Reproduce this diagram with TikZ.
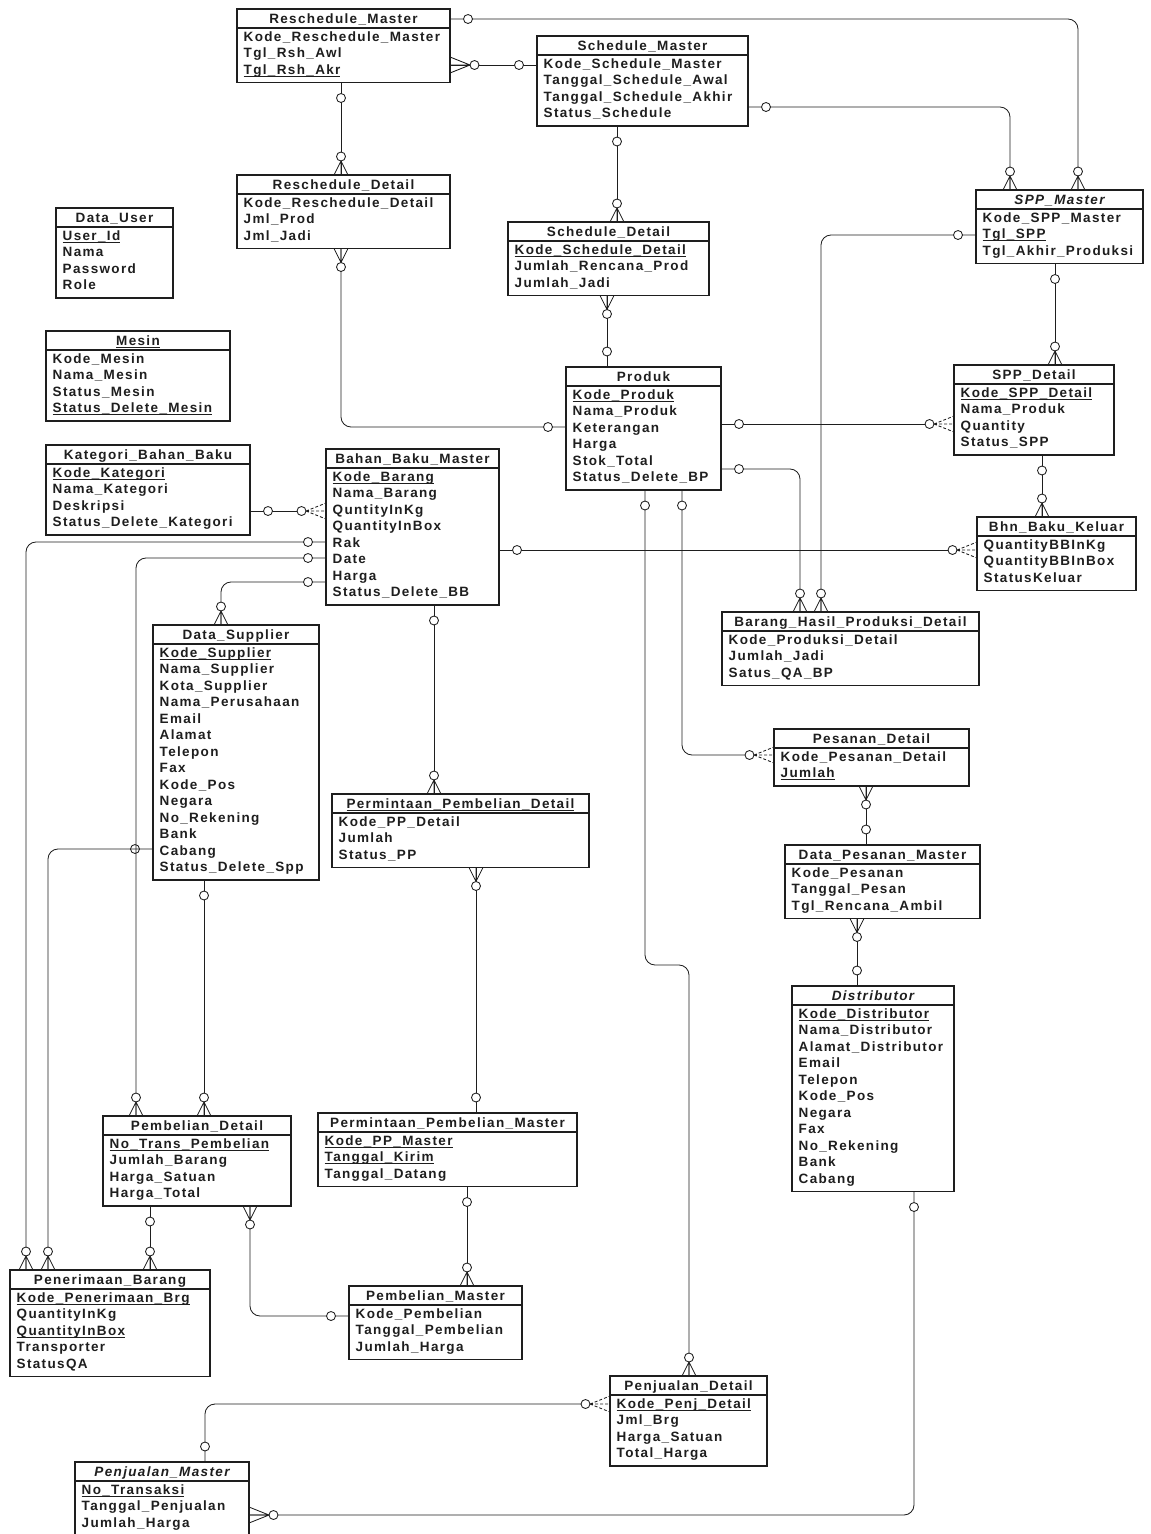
\documentclass[tikz,border=0pt]{standalone}
\usepackage{fontspec}
\newfontfamily\erfont{Liberation Sans}[LetterSpace=10]
\usetikzlibrary{calc}
\definecolor{ink}{HTML}{1E1E1E}

% underlined key attribute, rule just below the baseline
\newcommand\keyul[1]{\setbox0\hbox{#1}\rlap{\rule[-2.2pt]{\wd0}{0.9pt}}\box0}

% entity box: name, x, y, width, number of rows, title, rows
\newcommand\erbox[7]{%
  \node[ebox, minimum width=#4, minimum height={40.5+(#5-1)*16.5}] (#1) at (#2,#3) {};
  \draw[draw=ink, line width=1.1pt] ($(#1.north west)+(0,19)$) -- ($(#1.north east)+(0,19)$);
  \node[etitle] (#1-t) at ($(#1.north)+(0,9.5)$) {#6};
  \foreach \r [count=\i] in {#7} {
    \node[erow] (#1-\i) at ($(#1.north west)+(6.5,{27.5+(\i-1)*16.5})$) {\r};
  }
}

% crow's foot (many, optional): style, point on box edge, angle away from box, length, spread, circle offset
\newcommand\crowfoot[6]{%
  \draw[conn,#1] ($(#2)+({#3}:#4)$) -- ($(#2)+({#3+90}:#5)$)
    ($(#2)+({#3}:#4)$) -- (#2)
    ($(#2)+({#3}:#4)$) -- ($(#2)+({#3-90}:#5)$);
  \draw[circ] ($(#2)+({#3}:#6)$) circle[radius=4.5pt];}
\newcommand\manyV[2]{\crowfoot{}{#1}{#2}{14pt}{7pt}{18.5pt}}
\newcommand\manyH[2]{\crowfoot{}{#1}{#2}{20pt}{8pt}{24.5pt}}
\newcommand\manyHd[2]{%
  \draw[white,line width=2.4pt] ($(#1)+({#2}:0.8pt)$) -- ($(#1)+({#2}:20pt)$);
  \crowfoot{densely dashed}{#1}{#2}{20pt}{8pt}{24.5pt}}
% one, optional
\newcommand\oneV[3][]{\draw[circ,#1] ($(#2)+({#3}:15.5pt)$) circle[radius=4.5pt];}
\newcommand\oneH[3][]{\draw[circ,#1] ($(#2)+({#3}:18pt)$) circle[radius=4.5pt];}

\tikzset{
  ebox/.style={draw=ink, line width=1.1pt, fill=white, anchor=north west, inner sep=0pt, outer sep=0pt},
  etxt/.style={inner sep=0pt, text height=9.6pt, text depth=0pt, text=ink,
    font={\erfont\bfseries\fontsize{13.5}{16}\selectfont}},
  erow/.style={etxt, anchor=west},
  etitle/.style={etxt, anchor=center},
  conn/.style={draw=ink, line width=0.85pt},
  circ/.style={draw=ink, line width=0.85pt, fill=white},
}

\begin{document}
\begin{tikzpicture}[x=1pt,y=-1pt]
\useasboundingbox (0,0) rectangle (1151,1534);
\fill[white] (0,0) rectangle (1151,1534);

% ---------- entities ----------
\erbox{RM}{237}{9}{213}{3}{Reschedule\_Master}{Kode\_Reschedule\_Master,Tgl\_Rsh\_Awl,\keyul{Tgl\_Rsh\_Akr}}
\erbox{SM}{537}{36}{211}{4}{Schedule\_Master}{Kode\_Schedule\_Master,Tanggal\_Schedule\_Awal,Tanggal\_Schedule\_Akhir,Status\_Schedule}
\erbox{RD}{237}{175}{213}{3}{Reschedule\_Detail}{Kode\_Reschedule\_Detail,Jml\_Prod,Jml\_Jadi}
\erbox{SD}{508}{222}{201}{3}{Schedule\_Detail}{\keyul{Kode\_Schedule\_Detail},Jumlah\_Rencana\_Prod,Jumlah\_Jadi}
\erbox{DU}{56}{208}{117}{4}{Data\_User}{\keyul{User\_Id},Nama,Password,Role}
\erbox{ME}{46}{331}{184}{4}{\keyul{Mesin}}{Kode\_Mesin,Nama\_Mesin,Status\_Mesin,\keyul{Status\_Delete\_Mesin}}
\erbox{SPM}{976}{190}{167}{3}{\itshape SPP\_Master}{Kode\_SPP\_Master,\keyul{Tgl\_SPP},Tgl\_Akhir\_Produksi}
\erbox{SPD}{954}{365}{160}{4}{SPP\_Detail}{\keyul{Kode\_SPP\_Detail},Nama\_Produk,Quantity,Status\_SPP}
\erbox{PR}{566}{367}{155}{6}{Produk}{\keyul{Kode\_Produk},Nama\_Produk,Keterangan,Harga,Stok\_Total,Status\_Delete\_BP}
\erbox{KB}{46}{445}{204}{4}{Kategori\_Bahan\_Baku}{\keyul{Kode\_Kategori},Nama\_Kategori,Deskripsi,Status\_Delete\_Kategori}
\erbox{BBM}{326}{449}{173}{8}{Bahan\_Baku\_Master}{\keyul{Kode\_Barang},Nama\_Barang,QuntityInKg,QuantityInBox,Rak,Date,Harga,Status\_Delete\_BB}
\erbox{BBK}{977}{517}{159}{3}{Bhn\_Baku\_Keluar}{QuantityBBInKg,QuantityBBInBox,StatusKeluar}
\erbox{BHPD}{722}{612}{257}{3}{Barang\_Hasil\_Produksi\_Detail}{Kode\_Produksi\_Detail,Jumlah\_Jadi,Satus\_QA\_BP}
\erbox{DS}{153}{625}{166}{14}{Data\_Supplier}{\keyul{Kode\_Supplier},Nama\_Supplier,Kota\_Supplier,Nama\_Perusahaan,Email,Alamat,Telepon,Fax,Kode\_Pos,Negara,No\_Rekening,Bank,Cabang,Status\_Delete\_Spp}
\erbox{PD}{774}{729}{195}{2}{Pesanan\_Detail}{Kode\_Pesanan\_Detail,\keyul{Jumlah}}
\erbox{PPD}{332}{794}{257}{3}{\keyul{Permintaan\_Pembelian\_Detail}}{Kode\_PP\_Detail,Jumlah,Status\_PP}
\erbox{DPM}{785}{845}{195}{3}{Data\_Pesanan\_Master}{Kode\_Pesanan,Tanggal\_Pesan,Tgl\_Rencana\_Ambil}
\erbox{DI}{792}{986}{162}{11}{\itshape Distributor}{\keyul{Kode\_Distributor},Nama\_Distributor,Alamat\_Distributor,Email,Telepon,Kode\_Pos,Negara,Fax,No\_Rekening,Bank,Cabang}
\erbox{PBD}{103}{1116}{188}{4}{Pembelian\_Detail}{\keyul{No\_Trans\_Pembelian},Jumlah\_Barang,Harga\_Satuan,Harga\_Total}
\erbox{PPM}{318}{1113}{259}{3}{Permintaan\_Pembelian\_Master}{\keyul{Kode\_PP\_Master},\keyul{Tanggal\_Kirim},Tanggal\_Datang}
\erbox{PNB}{10}{1270}{200}{5}{Penerimaan\_Barang}{\keyul{Kode\_Penerimaan\_Brg},QuantityInKg,\keyul{QuantityInBox},Transporter,StatusQA}
\erbox{PBM}{349}{1286}{173}{3}{Pembelian\_Master}{Kode\_Pembelian,Tanggal\_Pembelian,Jumlah\_Harga}
\erbox{PJD}{610}{1376}{157}{4}{Penjualan\_Detail}{\keyul{Kode\_Penj\_Detail},Jml\_Brg,Harga\_Satuan,Total\_Harga}
\erbox{PJM}{75}{1462}{174}{3}{\itshape Penjualan\_Master}{\keyul{No\_Transaksi},Tanggal\_Penjualan,Jumlah\_Harga}

% ---------- relationship end points ----------
\coordinate (k1a) at ($(RM.north east)+(0,10)$);
\coordinate (k1b) at ($(SPM.north west)+(102,0)$);
\coordinate (k2a) at ($(RM.north east)+(0,56)$);
\coordinate (k2b) at ($(SM.north west)+(0,29)$);
\coordinate (k3a) at ($(RM.south west)+(104,0)$);
\coordinate (k3b) at ($(RD.north west)+(104,0)$);
\coordinate (k4a) at ($(SM.south west)+(80,0)$);
\coordinate (k4b) at ($(SD.north west)+(109,0)$);
\coordinate (k5a) at ($(SM.north east)+(0,71)$);
\coordinate (k5b) at ($(SPM.north west)+(34,0)$);
\coordinate (k6a) at ($(RD.south west)+(104,0)$);
\coordinate (k6b) at ($(PR.north west)+(0,60)$);
\coordinate (k7a) at ($(SD.south west)+(99,0)$);
\coordinate (k7b) at ($(PR.north west)+(41,0)$);
\coordinate (k8a) at ($(SPM.south west)+(79,0)$);
\coordinate (k8b) at ($(SPD.north west)+(101,0)$);
\coordinate (k9a) at ($(SPM.north west)+(0,45)$);
\coordinate (k9b) at ($(BHPD.north west)+(99,0)$);
\coordinate (k10a) at ($(PR.north east)+(0,57)$);
\coordinate (k10b) at ($(SPD.north west)+(0,59)$);
\coordinate (k11a) at ($(PR.north east)+(0,102)$);
\coordinate (k11b) at ($(BHPD.north west)+(78,0)$);
\coordinate (k12a) at ($(PR.south west)+(79,0)$);
\coordinate (k12b) at ($(PJD.north west)+(79,0)$);
\coordinate (k13a) at ($(PR.south west)+(116,0)$);
\coordinate (k13b) at ($(PD.north west)+(0,26)$);
\coordinate (k14a) at ($(SPD.south west)+(88,0)$);
\coordinate (k14b) at ($(BBK.north west)+(65,0)$);
\coordinate (k15a) at ($(KB.north east)+(0,66)$);
\coordinate (k15b) at ($(BBM.north west)+(0,62)$);
\coordinate (k16a) at ($(BBM.north west)+(0,93)$);
\coordinate (k16b) at ($(PNB.north west)+(16,0)$);
\coordinate (k17a) at ($(BBM.north west)+(0,109)$);
\coordinate (k17b) at ($(PBD.north west)+(33,0)$);
\coordinate (k18a) at ($(BBM.north west)+(0,133)$);
\coordinate (k18b) at ($(DS.north west)+(68,0)$);
\coordinate (k19a) at ($(BBM.south west)+(108,0)$);
\coordinate (k19b) at ($(PPD.north west)+(102,0)$);
\coordinate (k20a) at ($(BBM.north east)+(0,101)$);
\coordinate (k20b) at ($(BBK.north west)+(0,33)$);
\coordinate (k21a) at ($(DS.north west)+(0,224)$);
\coordinate (k21b) at ($(PNB.north west)+(38,0)$);
\coordinate (k22a) at ($(DS.south west)+(51,0)$);
\coordinate (k22b) at ($(PBD.north west)+(101,0)$);
\coordinate (k23a) at ($(PPD.south west)+(144,0)$);
\coordinate (k23b) at ($(PPM.north west)+(158,0)$);
\coordinate (k24a) at ($(PD.south west)+(92,0)$);
\coordinate (k24b) at ($(DPM.north west)+(81,0)$);
\coordinate (k25a) at ($(DPM.south west)+(72,0)$);
\coordinate (k25b) at ($(DI.north west)+(65,0)$);
\coordinate (k26a) at ($(DI.south west)+(122,0)$);
\coordinate (k26b) at ($(PJM.north east)+(0,53)$);
\coordinate (k27a) at ($(PJD.north west)+(0,28)$);
\coordinate (k27b) at ($(PJM.north west)+(130,0)$);
\coordinate (k28a) at ($(PPM.south west)+(149,0)$);
\coordinate (k28b) at ($(PBM.north west)+(118,0)$);
\coordinate (k29a) at ($(PBD.south west)+(47,0)$);
\coordinate (k29b) at ($(PNB.north west)+(140,0)$);
\coordinate (k30a) at ($(PBD.south west)+(147,0)$);
\coordinate (k30b) at ($(PBM.north west)+(0,30)$);

% ---------- relationship lines ----------
\begin{scope}[conn, rounded corners=10pt]
  \draw (k1a) -| (k1b);
  \draw (k2a) -- (k2b);
  \draw (k3a) -- (k3b);
  \draw (k4a) -- (k4b);
  \draw (k5a) -| (k5b);
  \draw (k6a) |- (k6b);
  \draw (k7a) -- (k7b);
  \draw (k8a) -- (k8b);
  \draw (k9a) -| (k9b);
  \draw (k10a) -- (k10b);
  \draw (k11a) -| (k11b);
  \draw (k12a) -- ++(0,475) -| (k12b);
  \draw (k13a) |- (k13b);
  \draw (k14a) -- (k14b);
  \draw (k15a) -- (k15b);
  \draw (k16a) -| (k16b);
  \draw (k17a) -| (k17b);
  \draw (k18a) -| (k18b);
  \draw (k19a) -- (k19b);
  \draw (k20a) -- (k20b);
  \draw (k21a) -| (k21b);
  \draw (k22a) -- (k22b);
  \draw (k23a) -- (k23b);
  \draw (k24a) -- (k24b);
  \draw (k25a) -- (k25b);
  \draw (k26a) |- (k26b);
  \draw (k27a) -| (k27b);
  \draw (k28a) -- (k28b);
  \draw (k29a) -- (k29b);
  \draw (k30a) |- (k30b);
\end{scope}

% ---------- cardinality marks ----------
\oneH{k1a}{0}      \manyV{k1b}{90}
\manyH{k2a}{0}     \oneH{k2b}{180}
\oneV{k3a}{270}    \manyV{k3b}{90}
\oneV{k4a}{270}    \manyV{k4b}{90}
\oneH{k5a}{0}      \manyV{k5b}{90}
\manyV{k6a}{270}   \oneH{k6b}{180}
\manyV{k7a}{270}   \oneV{k7b}{90}
\oneV{k8a}{270}    \manyV{k8b}{90}
\oneH{k9a}{180}    \manyV{k9b}{90}
\oneH{k10a}{0}     \manyHd{k10b}{180}
\oneH{k11a}{0}     \manyV{k11b}{90}
\oneV{k12a}{270}   \manyV{k12b}{90}
\oneV{k13a}{270}   \manyHd{k13b}{180}
\oneV{k14a}{270}   \manyV{k14b}{90}
\oneH{k15a}{0}     \manyHd{k15b}{180}
\oneH{k16a}{180}   \manyV{k16b}{90}
\oneH{k17a}{180}   \manyV{k17b}{90}
\oneH{k18a}{180}   \manyV{k18b}{90}
\oneV{k19a}{270}   \manyV{k19b}{90}
\oneH{k20a}{0}     \manyHd{k20b}{180}
\oneH[fill=none]{k21a}{180}  \manyV{k21b}{90}
\oneV{k22a}{270}   \manyV{k22b}{90}
\manyV{k23a}{270}  \oneV{k23b}{90}
\manyV{k24a}{270}  \oneV{k24b}{90}
\manyV{k25a}{270}  \oneV{k25b}{90}
\oneV{k26a}{270}   \manyH{k26b}{0}
\manyHd{k27a}{180} \oneV{k27b}{90}
\oneV{k28a}{270}   \manyV{k28b}{90}
\oneV{k29a}{270}   \manyV{k29b}{90}
\manyV{k30a}{270}  \oneH{k30b}{180}
\end{tikzpicture}
\end{document}
